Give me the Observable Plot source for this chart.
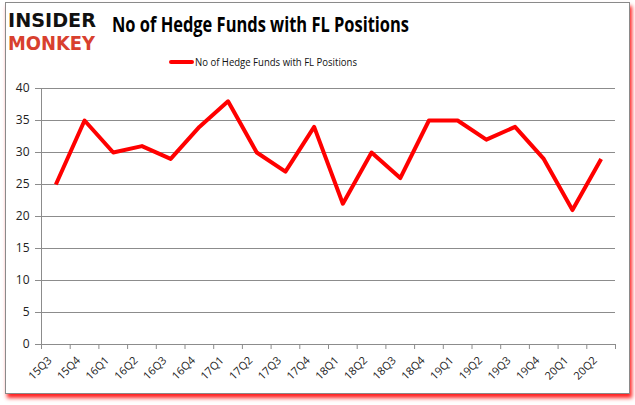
<!DOCTYPE html>
<html><head><meta charset="utf-8">
<script src="https://cdn.jsdelivr.net/npm/d3@7"></script>
<script src="https://cdn.jsdelivr.net/npm/@observablehq/plot@0.6"></script>
<style>
body{margin:0;background:#fff;}
#wrap{position:relative;width:635px;height:405px;overflow:hidden;font-family:"Open Sans",sans-serif;}
#frame{position:absolute;left:5px;top:2px;width:623px;height:390px;border:1px solid #8a8a8a;box-shadow:2px 4px 4px #ff2020;background:#fff;}
#chart{position:absolute;left:0;top:0;}
#texts{position:absolute;left:0;top:0;}
</style></head>
<body><div id="wrap"><div id="frame"></div>
<div id="chart"></div>
<svg id="texts" width="635" height="90">
  <text x="8" y="27" textLength="88" lengthAdjust="spacingAndGlyphs" font-family="DejaVu Sans" font-weight="bold" font-size="19" fill="#111">INSIDER</text>
  <text x="8" y="50" textLength="87" lengthAdjust="spacingAndGlyphs" font-family="DejaVu Sans" font-weight="bold" font-size="19" fill="#d8402e">MONKEY</text>
  <text x="112" y="32" textLength="297" lengthAdjust="spacingAndGlyphs" font-family="Open Sans" font-weight="bold" font-size="21" fill="#000">No of Hedge Funds with FL Positions</text>
  <line x1="171" x2="192" y1="62" y2="62" stroke="#ff0000" stroke-width="4" stroke-linecap="round"/>
  <text x="195" y="66" textLength="162" lengthAdjust="spacingAndGlyphs" font-family="Open Sans" font-size="11" fill="#111">No of Hedge Funds with FL Positions</text>
</svg>
</div>
<script>
const quarters = ["15Q3","15Q4","16Q1","16Q2","16Q3","16Q4","17Q1","17Q2","17Q3","17Q4","18Q1","18Q2","18Q3","18Q4","19Q1","19Q2","19Q3","19Q4","20Q1","20Q2"];
const funds = [25,35,30,31,29,34,38,30,27,34,22,30,26,35,35,32,34,29,21,29];
const yTicks = [0,5,10,15,20,25,30,35,40];
const data = quarters.map((q,i)=>({q, v: funds[i]}));
const step = (615-41)/quarters.length;
const plot = Plot.plot({
  width:635, height:405,
  marginLeft:41, marginRight:20, marginTop:88, marginBottom:61,
  style:{background:"transparent", fontFamily:"Open Sans", fontSize:"11px", color:"#222"},
  x:{type:"point", domain:quarters, padding:0.5, round:false, label:null},
  y:{type:"linear", domain:[0,40], ticks:yTicks, label:null},
  marks:[
    Plot.gridY(yTicks, {stroke:"#8c8c8c", strokeOpacity:1, strokeWidth:1}),
    Plot.ruleY([0], {stroke:"#8c8c8c"}),
    Plot.ruleX([quarters[0]], {x:d=>d, y1:0, y2:40, dx:-step/2, stroke:"#8c8c8c"}),
    Plot.ruleX(quarters, {x:d=>d, y1:0, y2:0, insetBottom:-5, dx:-step/2, stroke:"#8c8c8c"}),
    Plot.ruleX([quarters[quarters.length-1]], {x:d=>d, y1:0, y2:0, insetBottom:-5, dx:step/2, stroke:"#8c8c8c"}),
    Plot.axisY(yTicks, {tickSize:6, tickPadding:6, stroke:"#8c8c8c", fill:"#222", label:null, fontSize:12}),
    Plot.axisX({tickSize:0, tickRotate:-45, tickPadding:14, dx:-6, fill:"#222", label:null, fontSize:11}),
    Plot.line(data, {x:"q", y:"v", stroke:"#ff0000", strokeWidth:4, strokeLinejoin:"round", strokeLinecap:"butt"})
  ]
});
document.getElementById("chart").appendChild(plot);
</script></body></html>
